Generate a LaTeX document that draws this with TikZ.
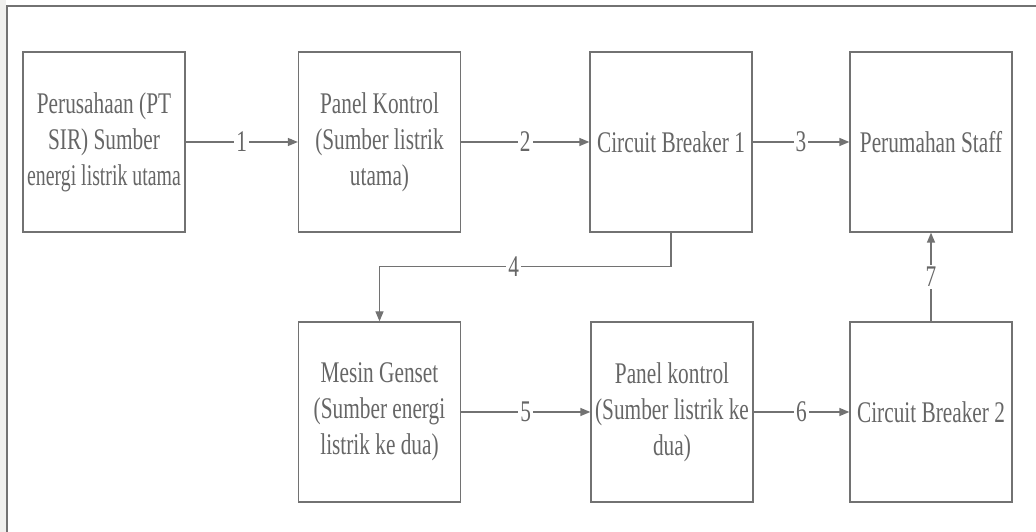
\documentclass[tikz,border=0pt]{standalone}
\usepackage{fontspec}
\setmainfont{Liberation Serif}[FakeStretch=0.71]
\usetikzlibrary{arrows.meta}
\definecolor{linegray}{HTML}{727272}
\definecolor{textgray}{HTML}{666666}
\definecolor{stripgray}{HTML}{F0F0EE}

\begin{document}
\begin{tikzpicture}[x=1pt, y=1pt,
    block/.style={draw=linegray, line width=1.3pt, minimum width=162pt, minimum height=180pt,
        align=center, text=textgray, inner sep=0pt, font=\fontsize{30}{36}\selectfont},
    flow/.style={draw=linegray, line width=1.3pt, -{Triangle[length=10pt, width=8pt]}},
    num/.style={fill=white, text=textgray, inner sep=2pt, font=\fontsize{30}{36}\selectfont}]
    \useasboundingbox (0,0) rectangle (1036,532);
    % Frame
    \fill[stripgray] (0,0) rectangle (6,532);
    \draw[linegray, line width=1.3pt] (7,0) -- (7,526) -- (1036,526);
    % Top row
    \node[block] (pt) at (104,390) {Perusahaan (PT\\SIR) Sumber\\\scalebox{0.93}[1]{energi listrik utama}};
    \node[block] (pk1) at (379.5,390) {Panel Kontrol\\(Sumber listrik\\utama)};
    \node[block] (cb1) at (671,390) {Circuit Breaker 1};
    \node[block] (rumah) at (931,390) {Perumahan Staff};
    % Bottom row
    \node[block] (genset) at (379.5,120) {Mesin Genset\\(Sumber energi\\listrik ke dua)};
    \node[block] (pk2) at (672,120) {Panel kontrol\\(Sumber listrik ke\\dua)};
    \node[block] (cb2) at (931,120) {Circuit Breaker 2};
    % Connectors
    \draw[flow] (pt) -- node[num] {1} (pk1);
    \draw[flow] (pk1) -- node[num] {2} (cb1);
    \draw[flow] (cb1) -- node[num] {3} (rumah);
    \draw[flow] (cb1.south) -- ++(0,-34) -| node[num, pos=0.27] {4} (genset.north);
    \draw[flow] (genset) -- node[num] {5} (pk2);
    \draw[flow] (pk2) -- node[num] {6} (cb2);
    \draw[flow] (cb2) -- node[num] {7} (rumah);
\end{tikzpicture}
\end{document}
